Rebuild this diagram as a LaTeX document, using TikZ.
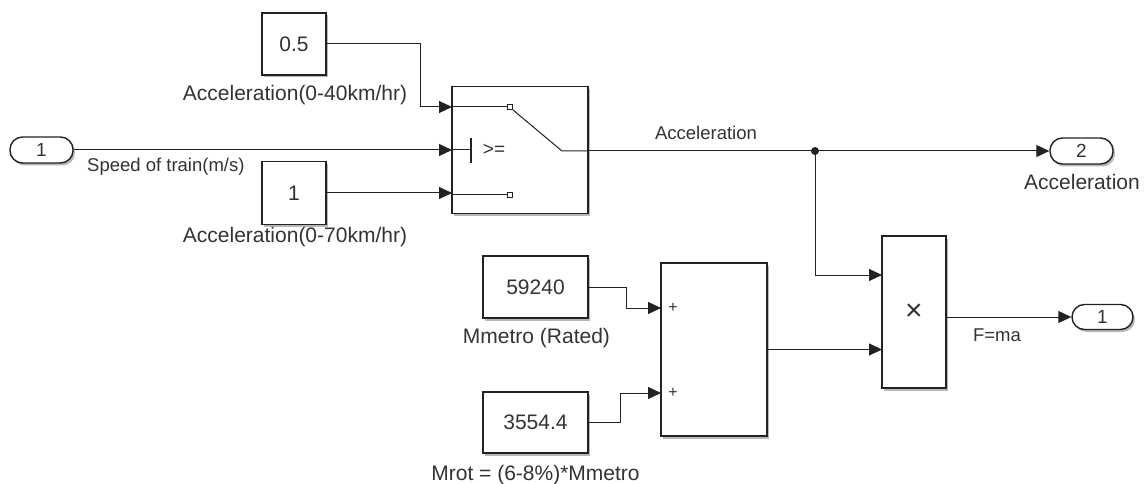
\documentclass[tikz,border=0pt]{standalone}
\usepackage{fontspec}
\setmainfont{Liberation Sans}
\usetikzlibrary{arrows.meta,shadows}
\definecolor{ink}{HTML}{222222}
\definecolor{txt}{HTML}{333333}
\begin{document}
\begin{tikzpicture}[x=1pt,y=-1pt,
  shad/.style={drop shadow={shadow xshift=2pt,shadow yshift=-2.5pt,opacity=0.28,fill=black}},
  blk/.style={draw=ink, line width=1.4pt, fill=white, inner sep=0pt, shad,
    font=\fontsize{21}{24}\selectfont, text=txt},
  port/.style={draw=ink, line width=1.4pt, fill=white, rounded corners=12.5pt,
    minimum width=63pt, minimum height=26pt, inner sep=0pt, shad,
    font=\fontsize{19}{22}\selectfont, text=txt},
  sig/.style={line width=1pt, draw=ink, -{Triangle[length=13pt,width=12pt]}},
  wire/.style={line width=1pt, draw=ink},
  blabel/.style={font=\fontsize{21}{24}\selectfont, text=txt, inner sep=0pt},
  slabel/.style={font=\fontsize{18.5}{21}\selectfont, text=txt, inner sep=0pt},
  contact/.style={draw=ink, line width=1pt, fill=white, minimum size=5pt, inner sep=0pt}]
\useasboundingbox[fill=white] (0,0) rectangle (1144,484);

% blocks
\node[port] (in1) at (41.5,150) {1};
\node[blk, minimum width=64pt, minimum height=62pt] (c05) at (294,44) {0.5};
\node[blk, minimum width=64pt, minimum height=63pt] (c1) at (294,193) {1};
\node[blk, minimum width=136pt, minimum height=127pt] (sw) at (520,150) {};
\node[port] (out2) at (1081.5,151) {2};
\node[blk, minimum width=64pt, minimum height=152pt] (prod) at (914,312) {\fontsize{30}{32}\selectfont ×};
\node[port, minimum width=61pt, minimum height=25pt] (out1) at (1102.5,317) {1};
\node[blk, minimum width=105pt, minimum height=62pt] (c59) at (535.5,287) {59240};
\node[blk, minimum width=105pt, minimum height=61pt] (c35) at (535.5,422.5) {3554.4};
\node[blk, minimum width=106pt, minimum height=173pt] (sum) at (714,349.5) {};

% port coordinates
\coordinate (swi1) at (452,107);
\coordinate (swi2) at (452,150);
\coordinate (swi3) at (452,193);
\coordinate (swo) at (588,151);
\coordinate (jn) at (815,151);
\coordinate (pi1) at (882,275);
\coordinate (pi2) at (882,349.5);
\coordinate (po) at (946,317);
\coordinate (si1) at (661,308);
\coordinate (si2) at (661,393);
\coordinate (k1) at (420,107);
\coordinate (k2) at (626,308);
\coordinate (k3) at (620,393);

% switch internals
\node[contact] (ct1) at (510,107) {};
\node[contact] (ct3) at (510,195) {};
\draw[wire] (swi1) -- (ct1.west);
\draw[wire] (452,195) -- (ct3.west);
\draw[wire] (swi2) -- (471,150);
\draw[ink, line width=2pt] (471,138) -- (471,163);
\node[font=\fontsize{19}{21}\selectfont, text=txt, inner sep=0pt] (ge) at (494,150) {>=};
\draw[wire] (ct1.south east) -- (562,151) -- (swo);

% sum signs
\node[font=\fontsize{16}{18}\selectfont, text=txt, inner sep=0pt] (p1) at (673,308) {+};
\node[font=\fontsize{16}{18}\selectfont, text=txt, inner sep=0pt] (p2) at (673,393) {+};

% connections
\draw[sig] (c05.east) -| (k1) -- (swi1);
\draw[sig] (in1.east) -- (swi2);
\draw[sig] (c1.east) -- (swi3);
\draw[sig] (swo) -- (out2.west);
\fill[ink] (jn) circle (4pt);
\draw[sig] (jn) |- (pi1);
\draw[sig] (sum.east |- pi2) -- (pi2);
\draw[sig] (po) -- (out1.west);
\draw[sig] (c59.east) -| (k2) -- (si1);
\draw[sig] (c35.east) -| (k3) -- (si2);

% labels
\node[blabel] (l05) at (295,95) {Acceleration(0-40km/hr)};
\node[blabel] (l1) at (295,237) {Acceleration(0-70km/hr)};
\node[slabel, anchor=west] (lspd) at (87,167) {Speed of train(m/s)};
\node[slabel] (lacc) at (706,133) {Acceleration};
\node[blabel] (lout2) at (1082,182) {Acceleration};
\node[slabel] (lf) at (997,335) {F=ma};
\node[blabel] (l59) at (536.5,338) {Mmetro (Rated)};
\node[blabel] (l35) at (535.5,475) {Mrot = (6-8\%)*Mmetro};
\end{tikzpicture}
\end{document}
